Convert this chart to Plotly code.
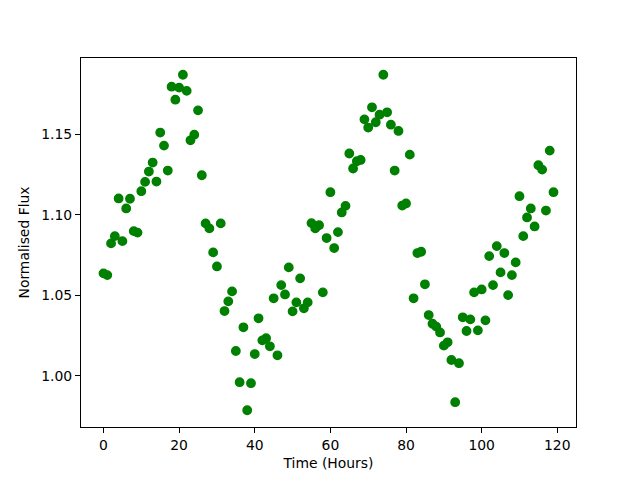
import plotly.graph_objects as go

hours = list(range(120))
flux = [
    1.0637, 1.0626, 1.0823, 1.0868, 1.1102, 1.0837, 1.1040, 1.1100, 1.0899, 1.0890,
    1.1147, 1.1205, 1.1269, 1.1325, 1.1207, 1.1511, 1.1430, 1.1275, 1.1796, 1.1715,
    1.1790, 1.1870, 1.1770, 1.1463, 1.1498, 1.1649, 1.1246, 1.0947, 1.0916, 1.0767,
    1.0680, 1.0947, 1.0403, 1.0463, 1.0525, 1.0155, 0.9961, 1.0302, 0.9787, 0.9955,
    1.0136, 1.0358, 1.0221, 1.0234, 1.0184, 1.0482, 1.0128, 1.0564, 1.0506, 1.0674,
    1.0401, 1.0457, 1.0606, 1.0420, 1.0457, 1.0949, 1.0916, 1.0936, 1.0519, 1.0856,
    1.1141, 1.0794, 1.0893, 1.1015, 1.1056, 1.1381, 1.1288, 1.1333, 1.1341, 1.1593,
    1.1542, 1.1668, 1.1575, 1.1622, 1.1870, 1.1637, 1.1560, 1.1275, 1.1521, 1.1058,
    1.1071, 1.1374, 1.0482, 1.0763, 1.0771, 1.0569, 1.0378, 1.0324, 1.0306, 1.0270,
    1.0188, 1.0209, 1.0099, 0.9837, 1.0079, 1.0364, 1.0279, 1.0351, 1.0519, 1.0283,
    1.0537, 1.0345, 1.0744, 1.0564, 1.0806, 1.0643, 1.0763, 1.0502, 1.0626, 1.0705,
    1.1116, 1.0868, 1.0984, 1.1040, 1.0928, 1.1308, 1.1281, 1.1027, 1.1399, 1.1141,
]
x_ticks = [0, 20, 40, 60, 80, 100, 120]
y_ticks = [1.00, 1.05, 1.10, 1.15]
y_tick_labels = ["1.00", "1.05", "1.10", "1.15"]

fig = go.Figure()
fig.add_trace(go.Scatter(
    x=hours, y=flux, mode="markers",
    marker=dict(color="#008000", size=8.4, line=dict(color="#008000", width=1.4)),
    showlegend=False,
))

font = dict(family="DejaVu Sans", size=13.9, color="black")
axis_common = dict(
    showline=True, mirror=True, linecolor="black", linewidth=1.1,
    ticks="outside", ticklen=5, tickwidth=1.1, tickcolor="black",
    showgrid=False, zeroline=False, tickfont=font, automargin=False,
)
# page body has an 8px margin, so the figure is 632x472 and offset by 8px
fig.update_layout(
    width=632, height=472,
    margin=dict(l=73, r=64, t=50, b=53),
    paper_bgcolor="white", plot_bgcolor="white",
    font=font,
    xaxis=dict(range=[-5.95, 124.95], tickvals=x_ticks,
               title=dict(text="Time (Hours)", font=font, standoff=6), **axis_common),
    yaxis=dict(range=[0.9683, 1.1974], tickvals=y_ticks, ticktext=y_tick_labels,
               title=dict(text="Normalised Flux", font=font, standoff=8), **axis_common),
)
fig.write_html("out.html")
